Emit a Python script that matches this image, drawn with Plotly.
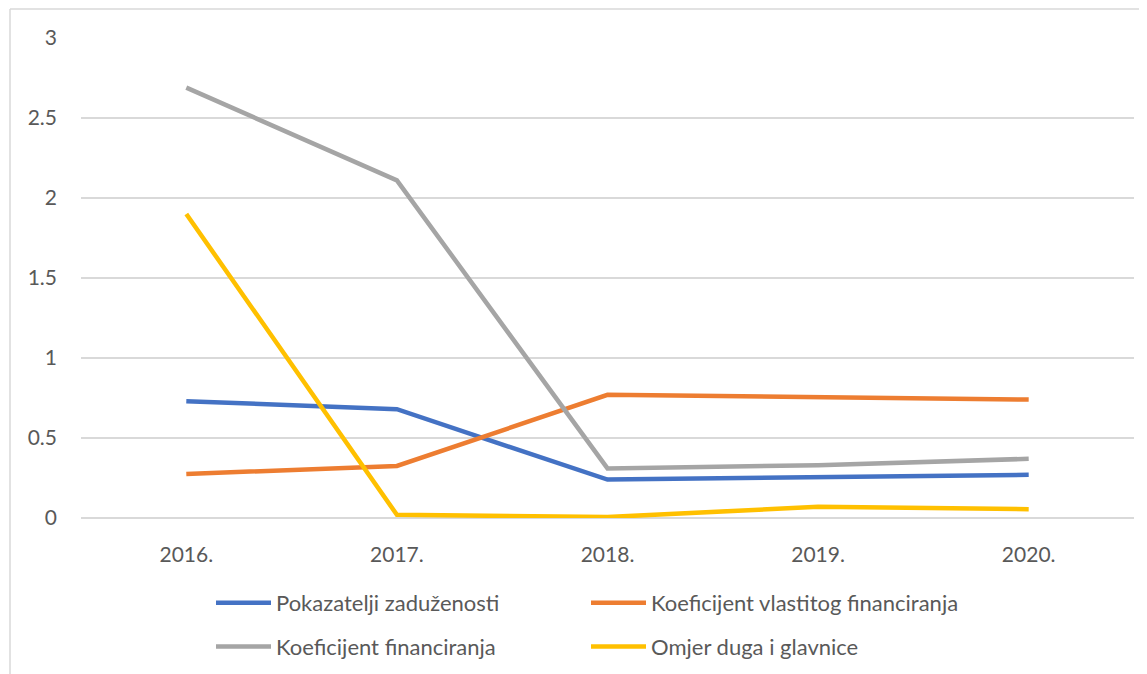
import plotly.graph_objects as go

# --- Data ---
years = ["2016.", "2017.", "2018.", "2019.", "2020."]
pokazatelji = [0.73, 0.68, 0.24, 0.255, 0.27]
vlastitog = [0.275, 0.325, 0.77, 0.755, 0.74]
financiranja = [2.69, 2.11, 0.31, 0.33, 0.37]
omjer = [1.90, 0.02, 0.006, 0.07, 0.055]

FONT = "Lato"
TXT = "#595959"

# the page body has an 8px margin, so the figure is shrunk by that amount
OFF = 8
W, H = 1147 - OFF, 674 - OFF
ML, MR, MT, MB = 81 - OFF, 13, 38 - OFF, 156
PW, PH = W - ML - MR, H - MT - MB


def px(x):  # page x -> paper
    return (x - OFF - ML) / PW


def py(y):  # page y -> paper
    return 1 - (y - OFF - MT) / PH


fig = go.Figure()

series = [
    ("Pokazatelji zaduženosti", pokazatelji, "#4472C4", "legend"),
    ("Koeficijent vlastitog financiranja", vlastitog, "#ED7D31", "legend2"),
    ("Koeficijent financiranja", financiranja, "#A5A5A5", "legend"),
    ("Omjer duga i glavnice", omjer, "#FFC000", "legend2"),
]
for name, vals, col, leg in series:
    fig.add_trace(go.Scatter(
        x=years, y=vals, mode="lines", name=name,
        line=dict(color=col, width=4.5),
        legend=leg, legendgroup=name,
    ))

# chart border (top and left edges visible in the reference)
fig.add_shape(type="line", xref="paper", yref="paper", x0=px(10), x1=1.2, y0=py(9), y1=py(9),
              line=dict(color="#D9D9D9", width=1.5))
fig.add_shape(type="line", xref="paper", yref="paper", x0=px(10), x1=px(10), y0=py(9), y1=-0.5,
              line=dict(color="#D9D9D9", width=1.5))

leg_common = dict(
    orientation="v", xanchor="left", yanchor="top",
    font=dict(family=FONT, size=22, color=TXT),
    bgcolor="rgba(0,0,0,0)", tracegroupgap=12, itemwidth=55,
)

fig.update_layout(
    width=W, height=H,
    margin=dict(l=ML, r=MR, t=MT, b=MB, autoexpand=False),
    paper_bgcolor="white", plot_bgcolor="white",
    font=dict(family=FONT, size=21, color=TXT),
    xaxis=dict(showgrid=False, showline=False, ticks="", tickfont=dict(size=21),
               range=[-0.5, 4.5], ticklabelstandoff=22, automargin=False),
    yaxis=dict(range=[0, 3], dtick=0.5, showgrid=True, gridcolor="#D9D9D9", gridwidth=1.5,
               zeroline=True, zerolinecolor="#D9D9D9", zerolinewidth=1.5, automargin=False,
               showline=False, ticks="", ticklabelstandoff=23, tickfont=dict(size=21)),
    legend=dict(x=px(211), y=py(582), **leg_common),
    legend2=dict(x=px(586), y=py(582), **leg_common),
)

fig.write_html("out.html")
